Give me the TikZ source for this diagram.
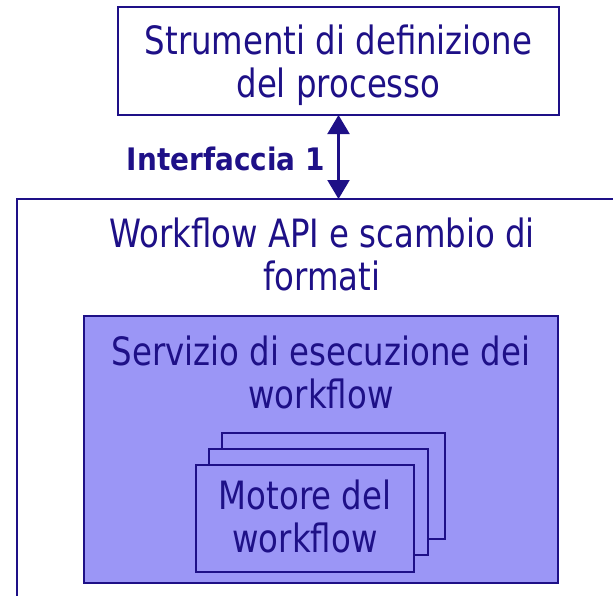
\documentclass[tikz,border=0pt]{standalone}
\usepackage{fontspec}
\setmainfont{DejaVu Sans}[FakeStretch=0.83]
\newfontfamily\boldfnt{DejaVu Sans Bold}[FakeStretch=0.9]
\usetikzlibrary{arrows.meta}
\definecolor{navy}{RGB}{30,16,135}
\definecolor{peri}{RGB}{155,150,246}
\begin{document}
\begin{tikzpicture}[x=1pt,y=1pt,
  box/.style={draw=navy,line width=2.2pt,rectangle,inner sep=0pt,outer sep=0pt},
  txt/.style={text=navy,align=center,anchor=base,inner sep=0pt,font=\fontsize{39}{43}\selectfont},
  conn/.style={draw=navy,line width=2.2pt,{Triangle[width=22pt,length=19pt]}-{Triangle[width=22pt,length=19pt]}}]
\useasboundingbox (0,0) rectangle (613,-595);
\clip (0,0) rectangle (613,-595);
% boxes
\node[box,fill=white,minimum width=441pt,minimum height=108pt] (top) at (338.5,-61) {};
\node[box,fill=white,minimum width=608pt,minimum height=421pt] (outer) at (321,-409.5) {};
\node[box,fill=peri,minimum width=474pt,minimum height=267pt] (exec) at (321,-449.5) {};
\node[box,fill=peri,minimum width=223pt,minimum height=106pt] (back) at (333.5,-486) {};
\node[box,fill=peri,minimum width=219pt,minimum height=106pt] (mid) at (318.5,-502) {};
\node[box,fill=peri,minimum width=218pt,minimum height=107pt] (front) at (305,-518.5) {};
% texts (anchor base = baseline of the last line)
\node[txt] (ttop) at (338.5,-97) {Strumenti di definizione\\del processo};
\node[txt] (touter) at (322,-290) {Workflow API e scambio di\\formati};
\node[txt] (texec) at (321,-408) {Servizio di esecuzione dei\\workflow};
\node[txt] (tfront) at (305,-552) {Motore del\\workflow};
\node[text=navy,anchor=base east,inner sep=0pt,font=\boldfnt\fontsize{31}{36}\selectfont] (if1) at (325,-170) {Interfaccia 1};
% connector
\draw[conn] (top.south) -- (top.south |- outer.north);
\end{tikzpicture}
\end{document}
